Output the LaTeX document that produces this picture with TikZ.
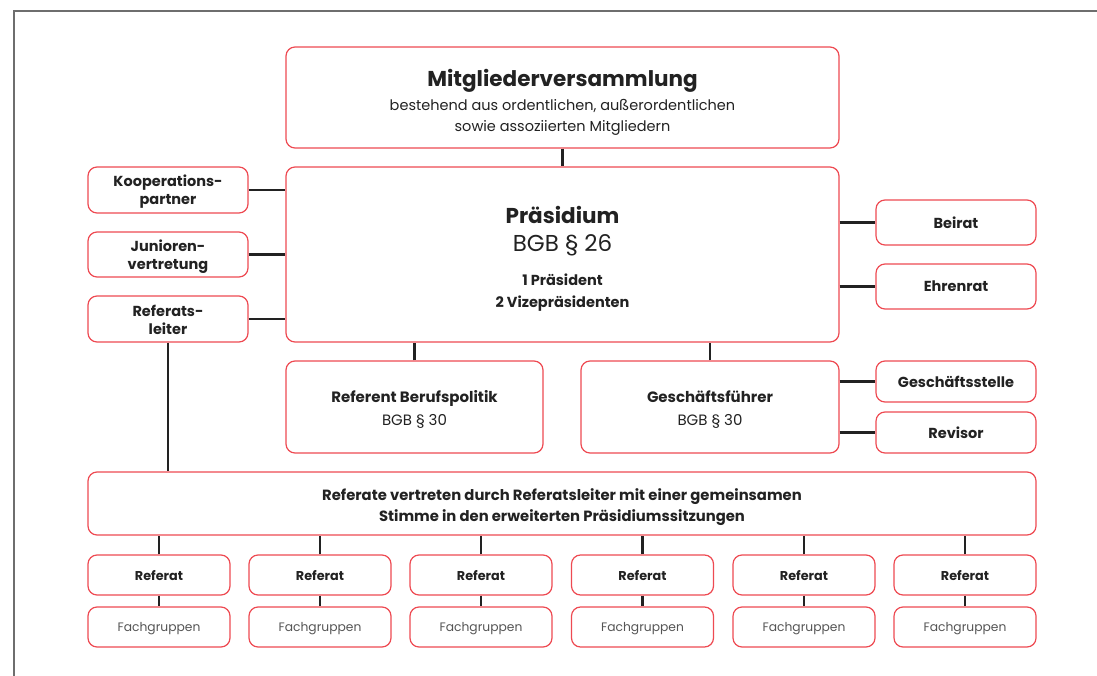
\documentclass[tikz,border=0pt]{standalone}
\usepackage{fontspec}
\setmainfont{Poppins}
\definecolor{redc}{RGB}{238,74,82}
\definecolor{ink}{RGB}{34,34,34}
\definecolor{soft}{RGB}{85,85,85}
\definecolor{framec}{RGB}{110,110,110}
\newcommand{\fHeadB}{\fontsize{21.5}{24}\selectfont\bfseries}
\newcommand{\fHeadR}{\fontsize{23}{24}\selectfont\mdseries}
\newcommand{\tp}[1]{\rule{0pt}{#1pt}}
\newcommand{\bt}[1]{\rule[-#1pt]{0pt}{#1pt}}
\tikzset{
  box/.style={draw=redc, line width=1.2pt, rounded corners=9pt, fill=white, inner sep=0pt, align=center, text=ink},
  link/.style={draw=ink, line width=2.1pt},
  sidefont/.style={font=\fontsize{14.5}{18}\selectfont\bfseries},
}
\begin{document}
\begin{tikzpicture}[x=1pt,y=-1pt]
\useasboundingbox (0,0) rectangle (1097,676);
\coordinate (fa) at (14,676);
\coordinate (fb) at (14,11);
\coordinate (fc) at (1097,11);
\draw[framec, line width=1.2pt] (fa) -- (fb) -- (fc);

\node[box, minimum width=553pt, minimum height=101pt, font=\fontsize{14.5}{21}\selectfont] (mv) at (562.5,97.5)
  {\fHeadB\tp{29}Mitgliederversammlung\\[3pt]
   bestehend aus ordentlichen, außerordentlichen\\sowie assoziierten Mitgliedern\bt{5}};
\node[box, minimum width=553pt, minimum height=175pt, font=\fontsize{14.5}{22}\selectfont\bfseries] (pr) at (562.5,254.5)
  {\fHeadB\tp{25}Präsidium\\[6pt]
   \fHeadR BGB § 26\\[12pt]
   1 Präsident\\2 Vizepräsidenten\bt{4}};

\node[box, sidefont, minimum width=160pt, minimum height=46pt] (ko) at (168,190) {\tp{16}Kooperations-\\partner\bt{4}};
\node[box, sidefont, minimum width=160pt, minimum height=45pt] (ju) at (168,254.5) {\tp{16}Junioren-\\vertretung\bt{4}};
\node[box, sidefont, minimum width=160pt, minimum height=46pt] (rl) at (168,319) {\tp{16}Referats-\\leiter\bt{4}};
\node[box, sidefont, minimum width=160pt, minimum height=45pt] (be) at (956,222.5) {Beirat};
\node[box, sidefont, minimum width=160pt, minimum height=45pt] (eh) at (956,286.5) {Ehrenrat};

\node[box, minimum width=257pt, minimum height=92pt, font=\fontsize{15}{23}\selectfont] (rb) at (414.5,407)
  {\bfseries\tp{17}Referent Berufspolitik\\BGB § 30\bt{3}};
\node[box, minimum width=258pt, minimum height=92pt, font=\fontsize{15}{23}\selectfont] (gf) at (710,407)
  {\bfseries\tp{17}Geschäftsführer\\BGB § 30\bt{3}};
\node[box, sidefont, minimum width=160pt, minimum height=41pt] (gs) at (956,381.5) {Geschäftsstelle};
\node[box, sidefont, minimum width=160pt, minimum height=41pt] (rv) at (956,432.5) {Revisor};

\node[box, minimum width=948pt, minimum height=63pt, font=\fontsize{14.8}{21}\selectfont\bfseries] (rs) at (562,503.5)
  {\tp{19}Referate vertreten durch Referatsleiter mit einer gemeinsamen\\Stimme in den erweiterten Präsidiumssitzungen\bt{3}};

\foreach \i/\x in {1/159,2/320,3/481,4/642.5,5/804,6/965}{
  \node[box, minimum width=142pt, minimum height=40pt, font=\fontsize{12.8}{15}\selectfont\bfseries] (r\i) at (\x,575) {\tp{12.5}Referat\bt{2.5}};
  \node[box, minimum width=142pt, minimum height=40pt, font=\fontsize{12.3}{15}\selectfont, text=soft] (f\i) at (\x,627) {\tp{13}Fachgruppen\bt{3.5}};
  \draw[link] (r\i.north) -- (r\i.north |- rs.south);
  \draw[link] (r\i.south) -- (f\i.north);
}

\draw[link] (mv.south) -- (pr.north);
\draw[link] (ko.east) -- (ko.east -| pr.west);
\draw[link] (ju.east) -- (ju.east -| pr.west);
\draw[link] (rl.east) -- (rl.east -| pr.west);
\draw[link] (be.west -| pr.east) -- (be.west);
\draw[link] (eh.west -| pr.east) -- (eh.west);
\draw[link] (rb.north) -- (rb.north |- pr.south);
\draw[link] (gf.north) -- (gf.north |- pr.south);
\draw[link] (gs.west -| gf.east) -- (gs.west);
\draw[link] (rv.west -| gf.east) -- (rv.west);
\draw[link] (rl.south) -- (rl.south |- rs.north);
\end{tikzpicture}
\end{document}
